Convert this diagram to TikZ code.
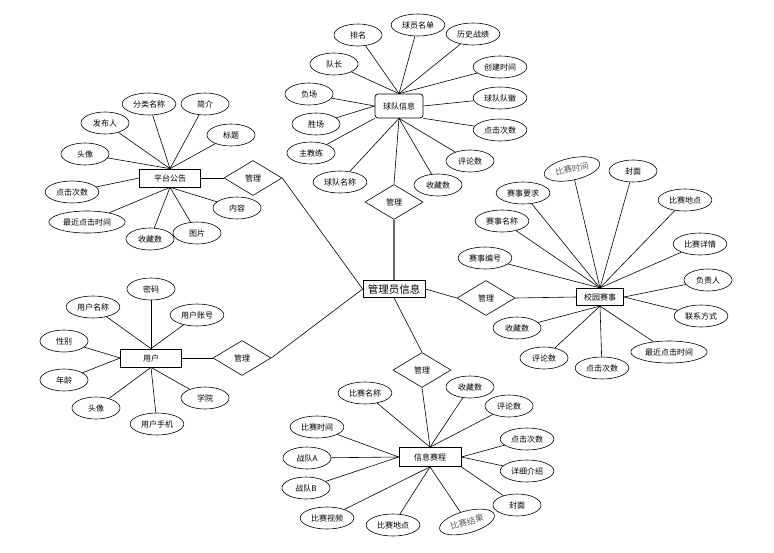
\documentclass[tikz,border=0pt]{standalone}
\usepackage{fontspec}
\setmainfont{Noto Sans CJK SC}
\usepackage{tikz}
\usetikzlibrary{shapes.geometric}

\tikzset{
  attr/.style={ellipse, draw, line width=.6pt, minimum width=48pt, minimum height=22pt, inner xsep=3pt, inner ysep=1pt, font=\fontsize{8}{9}\selectfont},
  tilted/.style={attr, text=gray!70!black, font=\fontsize{8.5}{9}\selectfont},
  ent/.style={rectangle, draw, line width=.7pt, minimum height=18pt, inner sep=2pt, font=\fontsize{8}{9}\selectfont},
  rel/.style={diamond, draw, line width=.6pt, minimum width=58pt, minimum height=35pt, inner sep=0pt, font=\fontsize{8}{9}\selectfont}
}

\begin{document}
\begin{tikzpicture}[x=1pt,y=-1pt,line width=.6pt]
\useasboundingbox (0,0) rectangle (774,552);

\node[ent, minimum width=62pt, minimum height=17pt, font=\fontsize{10.5}{12}\selectfont] (admin) at (394,289) {管理员信息};

\node[ent, rounded corners=3pt, minimum width=48pt, minimum height=24pt] (team) at (399,106) {球队信息};
\node[attr] (t1) at (358,35) {排名};
\node[attr] (t2) at (418,25) {球员名单};
\node[attr] (t3) at (473,34) {历史战绩};
\node[attr] (t4) at (500,67) {创建时间};
\node[attr] (t5) at (500,98) {球队队徽};
\node[attr] (t6) at (500,130) {点击次数};
\node[attr] (t7) at (470,161) {评论数};
\node[attr] (t8) at (438,185) {收藏数};
\node[attr] (t9) at (340,182) {球队名称};
\node[attr] (t10) at (311,153) {主教练};
\node[attr] (t11) at (316,124) {胜场};
\node[attr] (t12) at (309,94) {负场};
\node[attr] (t13) at (334,64) {队长};
\foreach \i in {1,2,3,4,13} \draw (team.north) -- (t\i);
\foreach \i in {11,12} \draw (team.west) -- (t\i);
\foreach \i in {7,8,9} \draw (team.south) -- (t\i);
\draw (team.south west) -- (t10);
\draw (team.east) -- (t5);
\draw (team.south east) -- (t6);

\node[ent, minimum width=61pt] (notice) at (170,178) {平台公告};
\node[attr] (n1) at (149,104) {分类名称};
\node[attr] (n2) at (205,104) {简介};
\node[attr] (n3) at (105,123) {发布人};
\node[attr] (n4) at (231,135) {标题};
\node[attr] (n5) at (85,154) {头像};
\node[attr] (n6) at (72,192) {点击次数};
\node[attr] (n7) at (87,222) {最近点击时间};
\node[attr] (n8) at (150,239) {收藏数};
\node[attr] (n9) at (197,233) {图片};
\node[attr] (n10) at (237,208) {内容};
\foreach \i in {1,...,5} \draw (notice.north) -- (n\i);
\foreach \i in {7,...,10} \draw (notice.south) -- (n\i);
\draw (notice.west) -- (n6);

\node[ent, minimum width=61pt] (user) at (151,358) {用户};
\node[attr] (u1) at (151,289) {密码};
\node[attr] (u2) at (93,307) {用户名称};
\node[attr] (u3) at (197,315) {用户账号};
\node[attr] (u4) at (64,341) {性别};
\node[attr] (u5) at (64,380) {年龄};
\node[attr] (u6) at (96,408) {头像};
\node[attr] (u7) at (157,424) {用户手机};
\node[attr] (u8) at (205,398) {学院};
\foreach \i in {1,2,3} \draw (user.north) -- (u\i);
\foreach \i in {4,5} \draw (user.west) -- (u\i);
\foreach \i in {6,7,8} \draw (user.south) -- (u\i);

\node[ent, line width=1.2pt, minimum width=47pt, minimum height=17pt] (contest) at (600,297) {校园赛事};
\node[tilted, rotate=12] (c1) at (572,169) {比赛时间};
\node[attr] (c2) at (633,171) {封面};
\node[attr] (c3) at (523,193) {赛事要求};
\node[attr] (c4) at (502,221) {赛事名称};
\node[attr] (c5) at (685,200) {比赛地点};
\node[attr] (c6) at (700,244) {比赛详情};
\node[attr] (c7) at (485,258) {赛事编号};
\node[attr] (c8) at (708,280) {负责人};
\node[attr] (c9) at (701,316) {联系方式};
\node[attr] (c10) at (517,328) {收藏数};
\node[attr] (c11) at (544,358) {评论数};
\node[attr] (c12) at (602,368) {点击次数};
\node[attr] (c13) at (669,352) {最近点击时间};
\foreach \i in {1,...,7} \draw (contest.north) -- (c\i);
\foreach \i in {8,9} \draw (contest.east) -- (c\i);
\foreach \i in {10,...,13} \draw (contest.south) -- (c\i);

\node[ent, minimum width=62pt, minimum height=19pt] (sched) at (430,457) {信息赛程};
\node[attr] (s1) at (365,393) {比赛名称};
\node[attr] (s2) at (470,387) {收藏数};
\node[attr] (s3) at (509,406) {评论数};
\node[attr] (s4) at (317,427) {比赛时间};
\node[attr] (s5) at (527,439) {点击次数};
\node[attr] (s6) at (307,458) {战队A};
\node[attr] (s7) at (527,471) {详细介绍};
\node[attr] (s8) at (306,488) {战队B};
\node[attr] (s9) at (517,505) {封面};
\node[attr] (s10) at (327,518) {比赛视频};
\node[attr] (s11) at (393,525) {比赛地点};
\node[tilted, rotate=15] (s12) at (467,522) {比赛结果};
\foreach \i in {1,2,3} \draw (sched.north) -- (s\i);
\foreach \i in {4,6,8} \draw (sched.west) -- (s\i);
\foreach \i in {5,7} \draw (sched.east) -- (s\i);
\foreach \i in {10,11,12} \draw (sched.south) -- (s\i);
\draw (sched.south east) -- (s9);

\node[rel] (mnotice) at (253,178) {管理};
\node[rel] (muser) at (242,358) {管理};
\node[rel] (mteam) at (394,202) {管理};
\node[rel] (mcontest) at (486,298) {管理};
\node[rel] (msched) at (422,370) {管理};

\draw (notice.east) -- (mnotice.west);
\draw (mnotice.east) -- (admin.west);
\draw (user.east) -- (muser.west);
\draw (muser.east) -- (admin.west);
\draw[gray!80!black, line width=1.3pt] (admin.north) -- (mteam.south);
\draw (mteam.north) -- (team.south);
\draw (admin.east) -- (mcontest.west);
\draw (mcontest.east) -- (contest.west);
\draw (admin.south) -- (msched.north);
\draw (msched.south) -- (sched.north);
\end{tikzpicture}
\end{document}
